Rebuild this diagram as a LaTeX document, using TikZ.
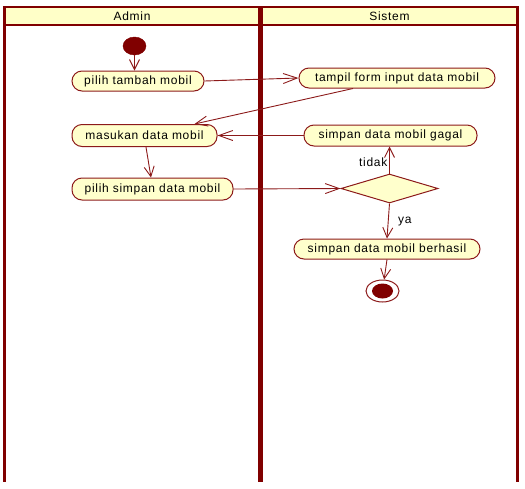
\documentclass[tikz,border=0pt]{standalone}
\usepackage{fontspec}
\setmainfont{Liberation Sans}[LetterSpace=6]
\usetikzlibrary{arrows.meta,shapes.geometric}
\definecolor{lane}{RGB}{128,0,0}
\definecolor{edgec}{RGB}{140,26,26}
\definecolor{fillc}{RGB}{255,255,204}
\definecolor{hdr}{RGB}{255,255,200}
\begin{document}
\begin{tikzpicture}[x=1pt,y=-1pt,
  act/.style={draw=edgec, line width=1pt, fill=fillc, rounded corners=10pt,
    minimum height=20pt, inner sep=0pt, font=\fontsize{12}{14}\selectfont},
  lbl/.style={inner sep=0pt, font=\fontsize{12}{14}\selectfont},
  conn/.style={draw=edgec, line width=0.9pt},
  harr/.style={conn, -{Straight Barb[length=14pt,width=10pt]}},
  varr/.style={conn, -{Straight Barb[length=10pt,width=10pt]}},
  darr/.style={conn, -{Straight Barb[length=12pt,width=10pt]}},
  laneline/.style={draw=lane}
]
\useasboundingbox (0,0) rectangle (525,488);
% swimlanes
\fill[hdr] (4,7) rectangle (517,25);
\draw[laneline, line width=2.5pt] (2.75,7) -- (518.25,7);
\draw[laneline, line width=2pt] (4,25) -- (517,25);
\draw[laneline, line width=3pt] (4,6) -- (4,482);
\draw[laneline, line width=3pt] (517,6) -- (517,482);
\draw[laneline, line width=5pt] (260.5,6) -- (260.5,482);
\node[lbl] (hadmin) at (132,16.5) {Admin};
\node[lbl] (hsistem) at (389.5,16.5) {Sistem};
% nodes
\node[ellipse, fill=lane, draw=lane, minimum width=23pt, minimum height=18pt, inner sep=0pt] (st) at (134.5,46) {};
\node[act, minimum width=132pt] (a1) at (138,81) {pilih tambah mobil};
\node[act, minimum width=145pt, minimum height=22pt] (a2) at (144.5,135.5) {masukan data mobil};
\node[act, minimum width=161pt, minimum height=22pt] (a3) at (152.5,189) {pilih simpan data mobil};
\node[act, minimum width=196pt] (s1) at (397,78) {tampil form input data mobil};
\node[act, minimum width=173pt, minimum height=21pt] (s2) at (390.5,135.5) {simpan data mobil gagal};
\node[diamond, aspect=3.3, draw=edgec, line width=1pt, fill=fillc, minimum width=97pt, minimum height=29pt, inner sep=0pt] (dec) at (389.5,188.5) {};
\node[act, minimum width=186pt] (s3) at (387,249) {simpan data mobil berhasil};
\node[ellipse, draw=edgec, line width=1pt, fill=white, minimum width=33pt, minimum height=22pt, inner sep=0pt] (en) at (382.5,291) {};
\node[ellipse, fill=lane, minimum width=21pt, minimum height=15pt, inner sep=0pt] (eni) at (en) {};
% labels
\node[lbl, anchor=east] (ltidak) at (387.5,162) {tidak};
\node[lbl, anchor=west] (lya) at (398,222) {ya};
% connectors
\draw[varr] (st) -- (st |- a1.north);
\draw[harr] (a1.east) -- (s1.west);
\draw[darr] ([xshift=-44pt]s1.south) -- ([xshift=50pt]a2.north);
\draw[harr] (s2.west) -- (a2.east);
\draw[varr] ([xshift=1.5pt]a2.south) -- ([xshift=-1.5pt]a3.north);
\draw[harr] (a3.east) -- (dec.west);
\draw[varr] (dec.north) -- (dec.north |- s2.south);
\draw[varr] (dec.south) -- (s3.north);
\draw[varr] (s3.south) -- (en);
\end{tikzpicture}
\end{document}
